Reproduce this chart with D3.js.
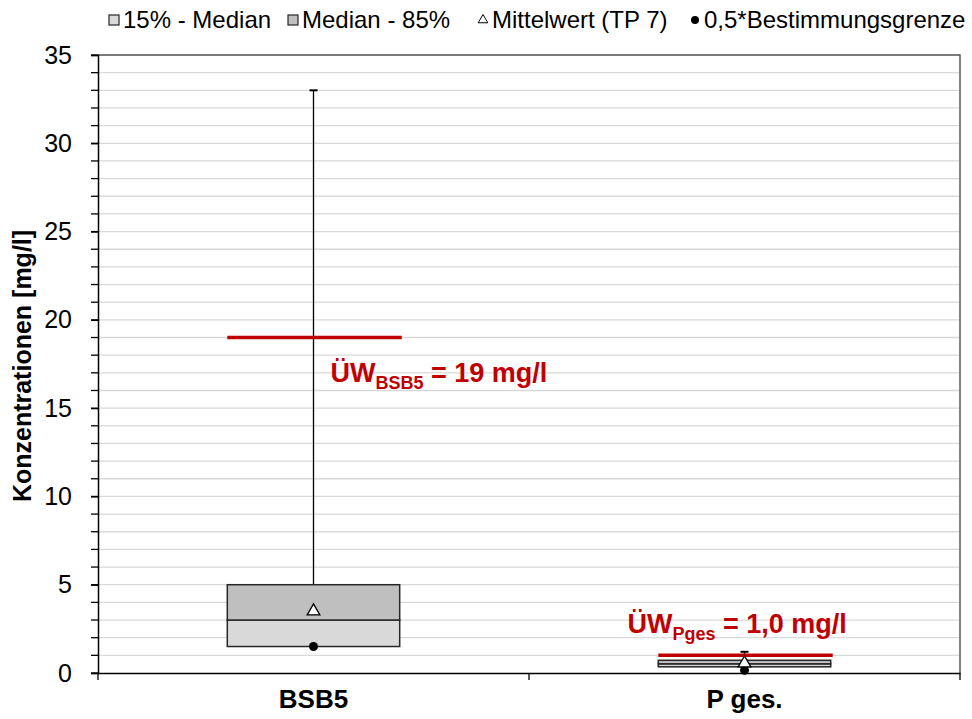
<!DOCTYPE html>
<meta charset="utf-8">
<script src="https://d3js.org/d3.v7.min.js"></script>
<style>
  body { margin: 0; background: #fff; }
  text { font-family: "Liberation Sans", Arial, sans-serif; }
</style>
<div id="chart"></div>
<script>
// ---- data ----
var categories = ["BSB5", "P ges."];
var p15 = [1.5, 0.35];
var median = [3.0, 0.52];
var p85 = [5.0, 0.72];
var maxVal = [33.0, 1.2];
var mean = [3.5, 0.55];
var halfLoq = [1.5, 0.15];
var limits = [19, 1.0];
var limitSub = ["BSB5", "Pges"];
var limitText = [" = 19 mg/l", " = 1,0 mg/l"];
var yTicks = [0, 5, 10, 15, 20, 25, 30, 35];
var legendItems = ["15% - Median", "Median - 85%", "Mittelwert (TP 7)", "0,5*Bestimmungsgrenze"];

var W = 972, H = 719;
var margin = { top: 55, right: 12, bottom: 46, left: 98 };
var width = W - margin.left - margin.right,
    height = H - margin.top - margin.bottom;

var svg = d3.select("#chart").append("svg")
    .attr("width", W).attr("height", H);
var g = svg.append("g")
    .attr("transform", "translate(" + margin.left + "," + margin.top + ")");

var y = d3.scaleLinear().domain([0, 35]).range([height, 0]);
var x = d3.scaleBand().domain(categories).range([0, width]).paddingInner(0).paddingOuter(0);
var boxW = x.bandwidth() * 0.4;
var red = "#C00000";

// gridlines every 1
g.append("g").selectAll("line")
    .data(d3.range(1, 36))
    .join("line")
    .attr("x1", 0).attr("x2", width)
    .attr("y1", d => y(d)).attr("y2", d => y(d))
    .attr("stroke", "#D9D9D9").attr("stroke-width", 1.3);

// plot border (top/right)
g.append("path")
    .attr("d", "M0,0H" + width + "V" + height)
    .attr("fill", "none").attr("stroke", "#595959").attr("stroke-width", 1.5);

// y axis: minor ticks
g.append("g").selectAll("line")
    .data(d3.range(0, 36))
    .join("line")
    .attr("x1", -7).attr("x2", 0)
    .attr("y1", d => y(d)).attr("y2", d => y(d))
    .attr("stroke", "#000").attr("stroke-width", 1.3);

var yAxis = g.append("g")
    .call(d3.axisLeft(y).tickValues(yTicks).tickSize(7).tickPadding(19));
yAxis.select(".domain").attr("stroke", "#000").attr("stroke-width", 1.5);
yAxis.selectAll(".tick line").attr("stroke-width", 1.3);
yAxis.selectAll("text").style("font-size", "25px").attr("fill", "#000");

// x axis
var xAxis = g.append("g")
    .attr("transform", "translate(0," + height + ")")
    .call(d3.axisBottom(x).tickSize(0).tickPadding(17));
xAxis.select(".domain").attr("stroke", "#000").attr("stroke-width", 1.5);
xAxis.selectAll("text").style("font-size", "26px").style("font-weight", "bold").attr("fill", "#000");
// category separator ticks
g.append("g").selectAll("line")
    .data([0, 1, 2])
    .join("line")
    .attr("x1", d => d * x.bandwidth()).attr("x2", d => d * x.bandwidth())
    .attr("y1", height).attr("y2", height + 7)
    .attr("stroke", "#000").attr("stroke-width", 1.3);

// y label
svg.append("text")
    .attr("transform", "translate(31," + (margin.top + height / 2 + 2) + ") rotate(-90)")
    .attr("text-anchor", "middle")
    .style("font-size", "25px").style("font-weight", "bold")
    .text("Konzentrationen [mg/l]");

// boxes
var boxes = g.append("g").selectAll("g")
    .data(categories)
    .join("g")
    .attr("transform", d => "translate(" + (x(d) + x.bandwidth() / 2) + ",0)");

boxes.append("line")
    .attr("x1", 0).attr("x2", 0)
    .attr("y1", (d, i) => y(p85[i])).attr("y2", (d, i) => y(maxVal[i]))
    .attr("stroke", "#000").attr("stroke-width", 1.3);
boxes.append("line")
    .attr("x1", -4).attr("x2", 4)
    .attr("y1", (d, i) => y(maxVal[i])).attr("y2", (d, i) => y(maxVal[i]))
    .attr("stroke", "#000").attr("stroke-width", 2);

boxes.append("rect")
    .attr("x", -boxW / 2).attr("width", boxW)
    .attr("y", (d, i) => y(median[i]))
    .attr("height", (d, i) => y(p15[i]) - y(median[i]))
    .attr("fill", "#D9D9D9").attr("stroke", "#262626").attr("stroke-width", 1.5);
boxes.append("rect")
    .attr("x", -boxW / 2).attr("width", boxW)
    .attr("y", (d, i) => y(p85[i]))
    .attr("height", (d, i) => y(median[i]) - y(p85[i]))
    .attr("fill", "#BFBFBF").attr("stroke", "#262626").attr("stroke-width", 1.5);

// limit lines
boxes.append("line")
    .attr("x1", -boxW / 2).attr("x2", boxW / 2 + 2)
    .attr("y1", (d, i) => y(limits[i])).attr("y2", (d, i) => y(limits[i]))
    .attr("stroke", red).attr("stroke-width", 3.5);

// half LOQ dots
boxes.append("circle")
    .attr("cy", (d, i) => y(halfLoq[i]))
    .attr("r", 4.5).attr("fill", "#000");

// mean triangles
var tri = d3.symbol().type(d3.symbolTriangle).size(70);
boxes.append("path")
    .attr("d", tri)
    .attr("transform", (d, i) => "translate(0," + y(mean[i]) + ")")
    .attr("fill", "#fff").attr("stroke", "#000").attr("stroke-width", 1.3);

// limit labels
var labelPos = [[17, 44], [-117, -22]];
boxes.each(function (d, i) {
    var t = d3.select(this).append("text")
        .attr("x", labelPos[i][0])
        .attr("y", y(limits[i]) + labelPos[i][1])
        .attr("fill", red).style("font-weight", "bold").style("font-size", "27px");
    t.append("tspan").text("ÜW");
    t.append("tspan").attr("dy", 7).style("font-size", "18px").text(limitSub[i]);
    t.append("tspan").attr("dy", -7).text(limitText[i]);
});

// legend
var legX = [114, 293, 483, 695];
var leg = svg.append("g").selectAll("g")
    .data(legendItems)
    .join("g")
    .attr("transform", (d, i) => "translate(" + legX[i] + ",20)");
leg.each(function (d, i) {
    var s = d3.select(this);
    if (i < 2) {
        s.append("rect").attr("x", -5).attr("y", -5).attr("width", 10).attr("height", 10)
            .attr("fill", i === 0 ? "#D9D9D9" : "#BFBFBF").attr("stroke", "#262626").attr("stroke-width", 1.2);
    } else if (i === 2) {
        s.append("path").attr("d", d3.symbol().type(d3.symbolTriangle).size(40))
            .attr("fill", "#fff").attr("stroke", "#000").attr("stroke-width", 1);
    } else {
        s.append("circle").attr("r", 4).attr("fill", "#000");
    }
    s.append("text").attr("x", 9).attr("y", 8)
        .style("font-size", "24px").text(d);
});
</script>
